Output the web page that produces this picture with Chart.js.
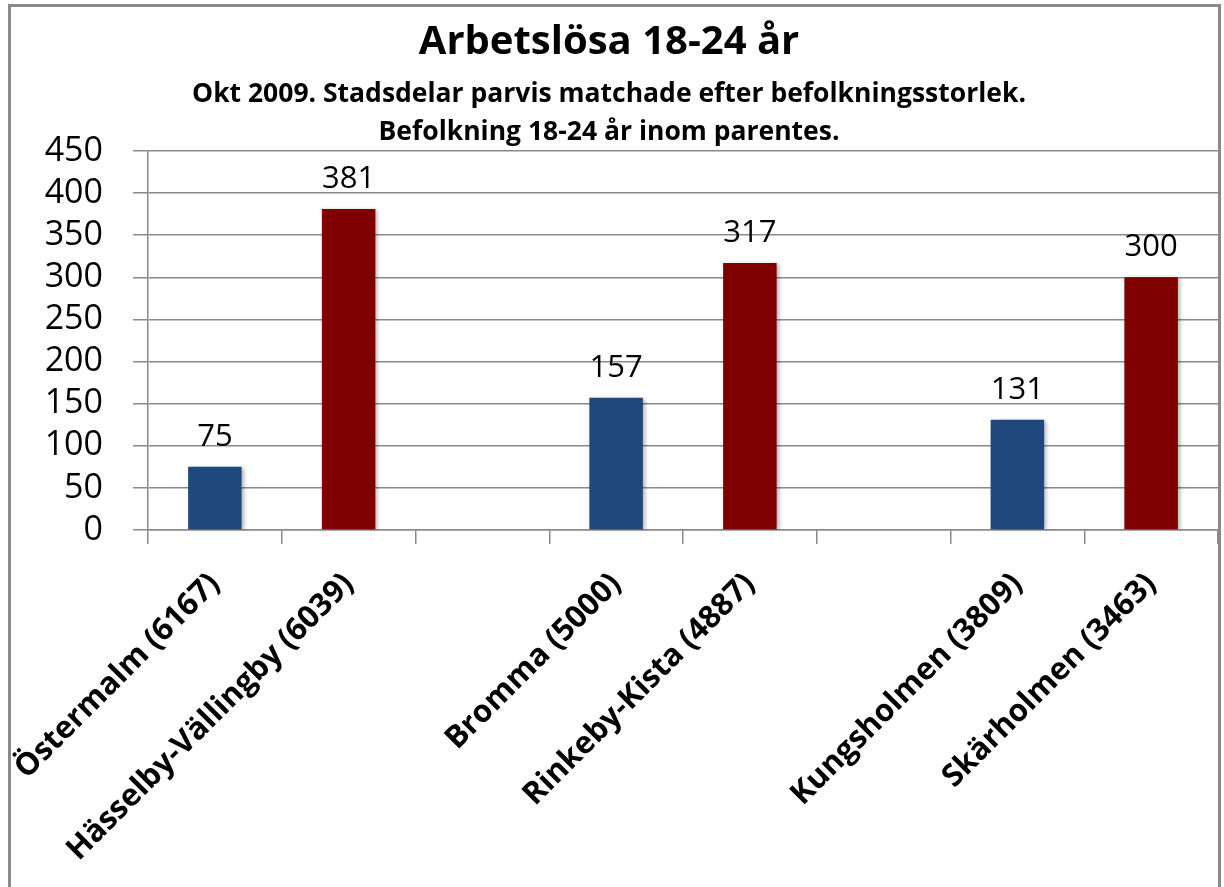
<!DOCTYPE html>
<html>
<head>
<meta charset="utf-8">
<script src="https://cdn.jsdelivr.net/npm/chart.js@4.4.1/dist/chart.umd.min.js"></script>
<style>
  body { margin: 0; background: #fff; }
  canvas { display: block; }
</style>
</head>
<body>
<canvas id="myChart" width="1224" height="887"></canvas>
<script>
// Stadsdelar parvis, tom kategori mellan paren
const stadsdelar = [
    'Östermalm (6167)', 'Hässelby-Vällingby (6039)', '',
    'Bromma (5000)', 'Rinkeby-Kista (4887)', '',
    'Kungsholmen (3809)', 'Skärholmen (3463)'
];
const arbetslosa = [75, 381, null, 157, 317, null, 131, 300];
const yTicks = [0, 50, 100, 150, 200, 250, 300, 350, 400, 450];

const titel = 'Arbetslösa 18-24 år';
const undertitel = [
    'Okt 2009. Stadsdelar parvis matchade efter befolkningsstorlek.',
    'Befolkning 18-24 år inom parentes.'
];

const BLA = '#1f497d';
const ROD = '#7f0000';
const GRID = '#8a8a8a';

// första i varje par blå, andra röd
var farger = stadsdelar.map(function(s, i) {
    return i % 3 === 0 ? BLA : ROD;
});

// ram runt hela diagrammet + vit bakgrund
const ramPlugin = {
    id: 'ram',
    beforeDraw: function(chart) {
        const ctx = chart.ctx;
        ctx.save();
        ctx.fillStyle = '#fff';
        ctx.fillRect(0, 0, chart.width, chart.height);
        ctx.strokeStyle = GRID;
        ctx.lineWidth = 3;
        ctx.strokeRect(9.5, 5.5, 1210, 1000);
        ctx.restore();
    }
};

// liten skugga bakom staplarna
const skuggaPlugin = {
    id: 'skugga',
    beforeDatasetDraw: function(chart) {
        const ctx = chart.ctx;
        ctx.save();
        ctx.shadowColor = 'rgba(0,0,0,0.3)';
        ctx.shadowBlur = 4;
        ctx.shadowOffsetX = 2;
        ctx.shadowOffsetY = 1;
    },
    afterDatasetDraw: function(chart) {
        chart.ctx.restore();
    }
};

// värden ovanför staplarna
const etikettPlugin = {
    id: 'etiketter',
    afterDatasetsDraw: function(chart) {
        const ctx = chart.ctx;
        const meta = chart.getDatasetMeta(0);
        ctx.save();
        ctx.font = '31px "Open Sans"';
        ctx.fillStyle = '#000';
        ctx.textAlign = 'center';
        ctx.textBaseline = 'alphabetic';
        meta.data.forEach(function(bar, i) {
            const v = arbetslosa[i];
            if (v === null) return;
            ctx.fillText(String(v), bar.x, bar.y - 21);
        });
        ctx.restore();
    }
};

const config = {
    type: 'bar',
    data: {
        labels: stadsdelar,
        datasets: [{
            data: arbetslosa,
            backgroundColor: farger,
            borderWidth: 0,
            categoryPercentage: 1,
            barPercentage: 0.4
        }]
    },
    options: {
        responsive: false,
        devicePixelRatio: 1,
        animation: false,
        layout: { padding: { top: 0, right: 6, bottom: 0, left: 0 } },
        plugins: {
            legend: { display: false },
            tooltip: { enabled: false },
            title: {
                display: true,
                text: titel,
                color: '#000',
                font: { family: 'Open Sans', size: 40, weight: 'bold', lineHeight: 1.2 },
                padding: { top: 19, bottom: 8 }
            },
            subtitle: {
                display: true,
                text: undertitel,
                color: '#000',
                font: { family: 'Open Sans', size: 26.5, weight: 'bold', lineHeight: '38px' },
                padding: { top: 0, bottom: 0 }
            }
        },
        scales: {
            x: {
                grid: {
                    display: true,
                    drawOnChartArea: false,
                    drawTicks: true,
                    tickLength: 14,
                    color: GRID,
                    lineWidth: 1.5
                },
                border: { color: GRID, width: 1.5 },
                ticks: {
                    color: '#000',
                    font: { family: 'Open Sans', size: 31, weight: 'bold' },
                    minRotation: 45,
                    maxRotation: 45,
                    autoSkip: false,
                    padding: 22
                },
                afterFit: function(scale) {
                    scale.height = 887 - 530;
                    // låt etiketterna gå ut till vänster utan att flytta diagrammet
                    scale.paddingLeft = 0;
                    scale.paddingRight = 0;
                }
            },
            y: {
                min: 0,
                max: 450,
                afterBuildTicks: function(scale) {
                    scale.ticks = yTicks.map(function(v) { return { value: v }; });
                },
                grid: {
                    color: GRID,
                    lineWidth: 1.5,
                    tickLength: 15
                },
                border: { color: GRID, width: 1.5 },
                ticks: {
                    color: '#000',
                    font: { family: 'Open Sans', size: 34 },
                    padding: 30,
                    autoSkip: false
                },
                afterFit: function(scale) { scale.width = 148; }
            }
        }
    },
    plugins: [ramPlugin, skuggaPlugin, etikettPlugin]
};

var ctx = document.getElementById('myChart').getContext('2d');
var myChart = new Chart(ctx, config);
</script>
</body>
</html>
